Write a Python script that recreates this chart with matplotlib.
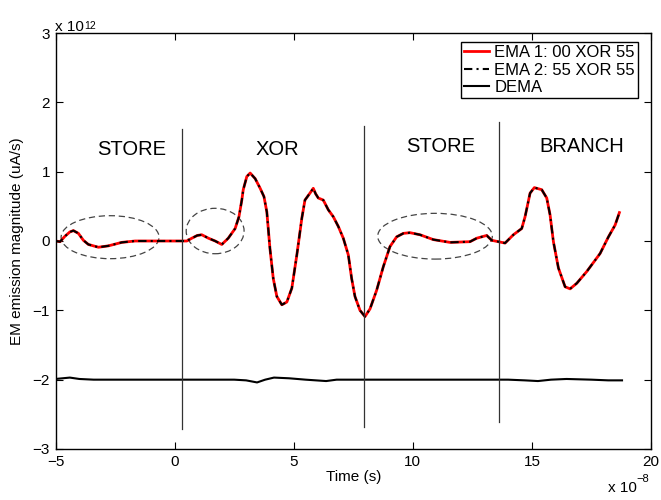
import numpy as np
import matplotlib
matplotlib.use("Agg")
import matplotlib.pyplot as plt
from matplotlib.patches import Ellipse

plt.rcParams['font.family'] = ['Liberation Sans', 'DejaVu Sans']

# time in units of 1e-8 s, magnitude in units of 1e12 uA/s
ema_t = [-5.0, -4.81, -4.6, -4.4, -4.25, -4.04, -3.83, -3.62, -3.2, -2.78, -2.22, -1.66,
         -0.82, 0.0, 0.51, 0.72, 0.95, 1.14, 1.42, 1.7, 1.98, 2.25, 2.54, 2.7, 2.82, 2.88,
         3.03, 3.17, 3.38, 3.59, 3.75, 3.87, 4.0, 4.14, 4.29, 4.5, 4.71, 4.92, 5.13, 5.34,
         5.47, 5.68, 5.82, 5.92, 6.03, 6.24, 6.45, 6.66, 6.87, 7.08, 7.29, 7.43, 7.57, 7.78,
         7.99, 8.2, 8.48, 8.76, 9.04, 9.32, 9.6, 9.88, 10.3, 10.86, 11.56, 12.4, 12.68, 13.1,
         13.31, 13.59, 13.87, 14.22, 14.57, 14.71, 14.92, 15.1, 15.41, 15.62, 15.76, 15.9,
         16.11, 16.39, 16.6, 16.88, 17.3, 17.86, 18.21, 18.49, 18.67]
ema1 = [0.0, -0.01, 0.07, 0.13, 0.15, 0.11, 0.01, -0.05, -0.09, -0.07, -0.02, 0.0,
        0.0, 0.0, 0.0, 0.04, 0.08, 0.09, 0.04, 0.0, -0.05, 0.04, 0.18, 0.35, 0.59, 0.74,
        0.93, 0.98, 0.90, 0.76, 0.64, 0.42, -0.105, -0.54, -0.80, -0.92, -0.88, -0.68, -0.20, 0.33,
        0.59, 0.69, 0.76, 0.68, 0.62, 0.59, 0.45, 0.35, 0.21, 0.04, -0.20, -0.54, -0.80, -1.0,
        -1.09, -0.98, -0.71, -0.37, -0.08, 0.06, 0.11, 0.12, 0.09, 0.02, -0.02, -0.01, 0.04, 0.08,
        0.01, -0.01, -0.03, 0.09, 0.18, 0.35, 0.69, 0.77, 0.74, 0.62, 0.375, -0.01,
        -0.39, -0.66, -0.69, -0.61, -0.44, -0.18, 0.06, 0.23, 0.41]
ema2 = list(ema1)  # 55 XOR 55 overlaps the first curve

dema_t = [-5.0, -4.7, -4.4, -4.0, -3.4, 0.0, 2.5, 3.0, 3.46, 3.8, 4.17, 4.8, 5.5, 6.36, 6.8,
          8.0, 12.0, 14.0, 14.7, 15.25, 15.8, 16.45, 17.5, 18.2, 18.78]
dema = [-1.99, -1.98, -1.97, -1.99, -2.0, -2.0, -2.0, -2.01, -2.04, -2.0, -1.97, -1.98, -2.0,
        -2.02, -2.0, -2.0, -2.0, -2.0, -2.01, -2.02, -2.0, -1.99, -2.0, -2.01, -2.01]

# instruction boundaries: x, top, bottom
bounds_x = [0.33, 7.95, 13.62]
bounds_top = [1.62, 1.66, 1.72]
bounds_bot = [-2.71, -2.68, -2.61]

phase_names = ['STORE', 'XOR', 'STORE', 'BRANCH']
phase_x = [-1.8, 4.33, 11.16, 17.09]
phase_y = [1.32, 1.32, 1.37, 1.37]

# dashed ellipses: center x, center y, width, height
ell_cx = [-2.71, 1.70, 10.93]
ell_cy = [0.055, 0.144, 0.069]
ell_w = [4.11, 2.43, 4.81]
ell_h = [0.62, 0.655, 0.66]

fig = plt.figure(figsize=(6.61, 5.0), dpi=100)
ax = fig.add_axes([0.084, 0.102, 0.901, 0.832])

ax.plot(ema_t, ema1, color='red', lw=2.0, label='EMA 1: 00 XOR 55')
ax.plot(ema_t, ema2, color='black', lw=1.5, dashes=(4, 2, 1, 2), label='EMA 2: 55 XOR 55')
ax.plot(dema_t, dema, color='black', lw=1.5, label='DEMA')

for bx, bt, bb in zip(bounds_x, bounds_top, bounds_bot):
    ax.plot([bx, bx], [bb, bt], color='#333333', lw=0.9)

for name, px, py in zip(phase_names, phase_x, phase_y):
    ax.text(px, py, name, fontsize=14.5, ha='center', va='center')

for cx, cy, w, h in zip(ell_cx, ell_cy, ell_w, ell_h):
    ax.add_patch(Ellipse((cx, cy), w, h, fill=False, edgecolor='#444444',
                         lw=0.9, linestyle=(0, (5, 3))))

ax.set_xlim(-5, 20)
ax.set_ylim(-3, 3)
ax.set_xticks([-5, 0, 5, 10, 15, 20])
ax.set_yticks([-3, -2, -1, 0, 1, 2, 3])
ax.tick_params(direction='in', length=5, width=0.8, top=True, right=True,
               labelsize=11, pad=4)
for sp in ax.spines.values():
    sp.set_linewidth(1.0)

ax.set_xlabel('Time (s)', fontsize=11, labelpad=1)
ax.set_ylabel('EM emission magnitude (uA/s)', fontsize=11, labelpad=6)

# axis multipliers, drawn like MATLAB: "x 10" with a small raised exponent
top_mult = fig.text(55 / 661, 1 - 30.7 / 500, 'x 10', fontsize=11, ha='left', va='baseline')
ax.annotate('12', xy=(1.0, 0.0), xycoords=top_mult, xytext=(0.5, 3.5),
            textcoords='offset points', fontsize=7.5, ha='left', va='baseline')
fig.text(636.5 / 661, 1 - 491.7 / 500, 'x 10', fontsize=11, ha='right', va='baseline')
fig.text(636.5 / 661, 1 - 481.7 / 500, '\u22128', fontsize=8, ha='left', va='baseline')

leg = ax.legend(loc='upper right', bbox_to_anchor=(0.9787, 0.979), borderaxespad=0,
                fontsize=12, frameon=True, fancybox=False, framealpha=1,
                edgecolor='black', handlelength=1.5, handletextpad=0.3,
                labelspacing=0.15, borderpad=0.2)
leg.get_frame().set_linewidth(1.0)

fig.savefig('out.png', dpi=100)
